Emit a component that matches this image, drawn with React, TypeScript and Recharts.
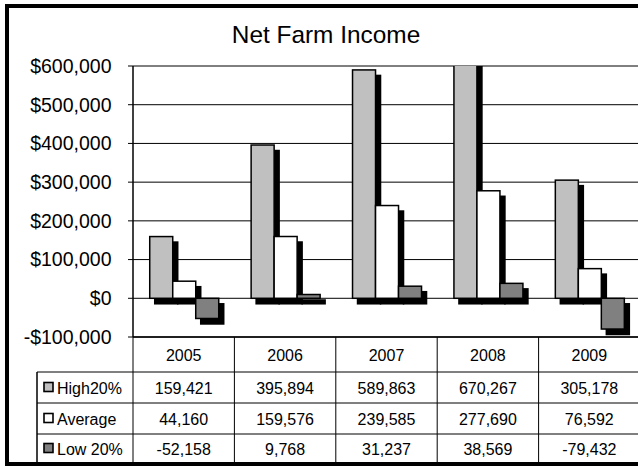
import { BarChart, Bar, XAxis, YAxis, CartesianGrid } from "recharts";

const YEARS = ["2005", "2006", "2007", "2008", "2009"];
const HIGH_20 = [159421, 395894, 589863, 670267, 305178];
const AVERAGE = [44160, 159576, 239585, 277690, 76592];
const LOW_20 = [-52158, 9768, 31237, 38569, -79432];
const ROW_LABELS = ["High20%", "Average", "Low 20%"];
const Y_TICKS = [-100000, 0, 100000, 200000, 300000, 400000, 500000, 600000];

const VIEW_W = 638;
const VIEW_H = 466;
const CHART_W = 660;
const CHART_H = 466;
// the plot runs a little past the right edge of the picture, like the original
const MARGIN = { top: 66, right: 20, bottom: 3, left: 0 };
const Y_AXIS_W = 133;
const X_AXIS_H = 126;
const PLOT_LEFT = MARGIN.left + Y_AXIS_W;
const PLOT_BOTTOM = CHART_H - MARGIN.bottom - X_AXIS_H;
const BAND_W = (CHART_W - MARGIN.right - PLOT_LEFT) / YEARS.length;
// table row boundaries: header, then one row per series
const ROWS = [PLOT_BOTTOM, 372, 403, 434, 463];
const LABEL_LEFT = 37;

const FONT = '"Liberation Sans", Arial, sans-serif';
const FILLS = ["#c0c0c0", "#ffffff", "#808080"];

const data = YEARS.map((year, i) => ({
    year,
    high: HIGH_20[i],
    average: AVERAGE[i],
    low: LOW_20[i],
}));
const tableRows = [HIGH_20, AVERAGE, LOW_20];

const rowText = (r: number) => (ROWS[r] + ROWS[r + 1]) / 2 + 6.5;

const fmtMoney = (v: number) => (v < 0 ? "-$" : "$") + Math.abs(v).toLocaleString("en-US");

const ShadowBar = (props: any) => {
    const { x, y, width, height, fill } = props;
    if (x == null || width == null) return null;
    const top = Math.min(y, y + height);
    const h = Math.abs(height);
    return (
        <g>
            <rect x={x + 5 - 0.75} y={top + 5.5 - 0.75} width={width + 1.5} height={h + 1.5} fill="#000" />
            <rect x={x} y={top} width={width} height={h} fill={fill} stroke="#000" strokeWidth={1.5} />
        </g>
    );
};

const RowLabels = () => (
    <g>
        <line x1={LABEL_LEFT} y1={ROWS[1]} x2={LABEL_LEFT} y2={ROWS[4]} stroke="#000" strokeWidth={1.5} />
        {[1, 2, 3].map((r) => (
            <line key={r} x1={LABEL_LEFT} y1={ROWS[r]} x2={PLOT_LEFT} y2={ROWS[r]} stroke="#000" />
        ))}
        {ROW_LABELS.map((label, i) => (
            <g key={label}>
                <rect
                    x={44}
                    y={(ROWS[i + 1] + ROWS[i + 2]) / 2 - 5}
                    width={9}
                    height={9}
                    fill={FILLS[i]}
                    stroke="#000"
                    strokeWidth={1.6}
                />
                <text x={57} y={rowText(i + 1)} fontSize={16} fontFamily={FONT} fill="#000">
                    {label}
                </text>
            </g>
        ))}
    </g>
);

const TableTick = (props: any) => {
    const { x, index, payload } = props;
    const left = x - BAND_W / 2;
    const right = x + BAND_W / 2;
    return (
        <g>
            <line x1={left} y1={ROWS[0]} x2={left} y2={ROWS[4]} stroke="#000" />
            {[1, 2, 3].map((r) => (
                <line key={r} x1={left} y1={ROWS[r]} x2={right} y2={ROWS[r]} stroke="#000" />
            ))}
            <text x={x} y={rowText(0)} textAnchor="middle" fontSize={16} fontFamily={FONT} fill="#000">
                {payload.value}
            </text>
            {tableRows.map((vals, r) => (
                <text
                    key={r}
                    x={x}
                    y={rowText(r + 1)}
                    textAnchor="middle"
                    fontSize={16}
                    fontFamily={FONT}
                    fill="#000"
                >
                    {vals[index].toLocaleString("en-US")}
                </text>
            ))}
            {index === 0 && <RowLabels />}
        </g>
    );
};

export default function App() {
    return (
        <div
            style={{
                position: "fixed",
                left: 0,
                top: 0,
                width: VIEW_W,
                height: VIEW_H,
                overflow: "hidden",
                background: "#fff",
            }}
        >
            {/* outer frame: left, top and bottom edges only, the right edge is cut off */}
            <div style={{ position: "absolute", left: 5, top: 4, width: 640, height: 4, background: "#000" }} />
            <div style={{ position: "absolute", left: 5, top: 4, width: 4, height: 462, background: "#000" }} />
            <div style={{ position: "absolute", left: 5, top: 462, width: 640, height: 4, background: "#000" }} />
            <div
                style={{
                    position: "absolute",
                    left: 14,
                    top: 23,
                    width: 624,
                    textAlign: "center",
                    fontFamily: FONT,
                    fontSize: 24.4,
                    lineHeight: "24px",
                    color: "#000",
                }}
            >
                Net Farm Income
            </div>
            <div style={{ position: "absolute", left: 0, top: 0 }}>
                <BarChart
                    width={CHART_W}
                    height={CHART_H}
                    data={data}
                    margin={MARGIN}
                    barGap={0}
                    barCategoryGap="16.5%"
                >
                    <CartesianGrid horizontal={true} vertical={false} stroke="#000" strokeWidth={1} />
                    <XAxis
                        dataKey="year"
                        height={X_AXIS_H}
                        axisLine={{ stroke: "#000", strokeWidth: 1.5 }}
                        tickLine={false}
                        interval={0}
                        tick={<TableTick />}
                    />
                    <YAxis
                        width={Y_AXIS_W}
                        domain={[-100000, 600000]}
                        ticks={Y_TICKS}
                        allowDataOverflow={true}
                        interval={0}
                        tickFormatter={fmtMoney}
                        tick={{ fill: "#000", fontSize: 19.5, fontFamily: FONT }}
                        tickSize={5}
                        tickMargin={16.5}
                        axisLine={{ stroke: "#000", strokeWidth: 1.5 }}
                        tickLine={{ stroke: "#000" }}
                    />
                    <Bar dataKey="high" fill={FILLS[0]} shape={<ShadowBar />} isAnimationActive={false} />
                    <Bar dataKey="average" fill={FILLS[1]} shape={<ShadowBar />} isAnimationActive={false} />
                    <Bar dataKey="low" fill={FILLS[2]} shape={<ShadowBar />} isAnimationActive={false} />
                </BarChart>
            </div>
        </div>
    );
}
